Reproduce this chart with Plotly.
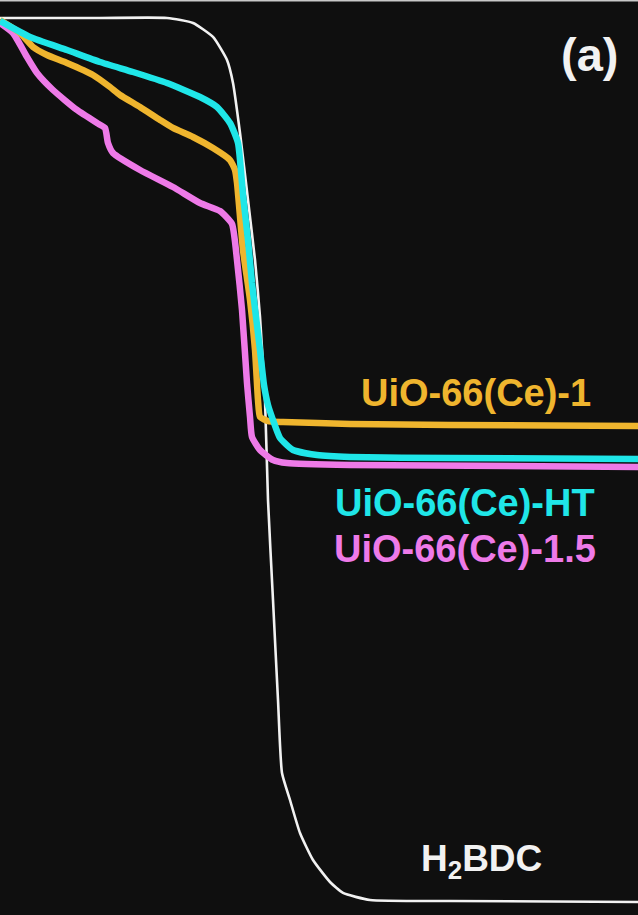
import plotly.graph_objects as go

# Temperature (°C) and weight (%)
h2bdc_T = [30, 130, 197, 223, 243, 257, 263, 270, 278, 285, 290, 295, 298, 303, 308, 312, 320, 330, 343, 360, 373, 400, 480, 668]
h2bdc_w = [99.89, 99.89, 99.89, 99.33, 97.78, 95.22, 92.67, 87.11, 79.67, 73.0, 66.67, 57.44, 46.33, 35.22, 24.11, 16.0, 13.0, 9.33, 6.33, 3.89, 2.67, 1.89, 1.78, 1.67]

ce1_T = [30, 50, 63, 77, 97, 123, 140, 150, 170, 190, 203, 223, 243, 260, 265, 267, 273, 280, 285, 288, 290, 298, 313, 380, 480, 668]
ce1_w = [99.67, 98.22, 96.67, 95.78, 94.89, 93.56, 92.22, 91.33, 90.0, 88.56, 87.67, 86.67, 85.44, 84.11, 83.0, 81.56, 74.11, 68.56, 63.0, 57.44, 55.56, 55.11, 55.0, 54.78, 54.67, 54.56]

ht_T = [30, 60, 97, 130, 163, 197, 230, 247, 260, 268, 273, 278, 282, 286, 290, 294, 298, 303, 310, 323, 347, 380, 480, 668]
ht_w = [99.56, 97.78, 96.33, 95.0, 93.89, 92.67, 91.11, 90.0, 88.22, 86.0, 80.22, 75.22, 70.44, 66.67, 63.0, 59.11, 56.89, 55.22, 53.22, 51.89, 51.33, 51.11, 51.0, 50.89]

ce15_T = [30, 43, 57, 67, 83, 107, 127, 135, 138, 143, 170, 203, 230, 250, 262, 267, 272, 277, 280, 282, 290, 303, 317, 380, 668]
ce15_w = [99.33, 98.22, 95.56, 93.78, 91.89, 89.67, 88.22, 87.67, 86.0, 84.89, 83.0, 81.11, 79.33, 78.44, 77.0, 73.0, 67.44, 59.33, 55.56, 53.33, 51.89, 50.78, 50.44, 50.22, 50.0]

W, H = 638, 915
FONT = "Arial, Liberation Sans, sans-serif"

fig = go.Figure()
fig.add_trace(go.Scatter(x=h2bdc_T, y=h2bdc_w, mode="lines", line=dict(color="#f2f2f2", width=2.6, shape="spline", smoothing=0.5), hoverinfo="skip"))
fig.add_trace(go.Scatter(x=ce15_T, y=ce15_w, mode="lines", line=dict(color="#ee7ae8", width=6.5, shape="spline", smoothing=0.5), hoverinfo="skip"))
fig.add_trace(go.Scatter(x=ce1_T, y=ce1_w, mode="lines", line=dict(color="#efb52e", width=6.5, shape="spline", smoothing=0.5), hoverinfo="skip"))
fig.add_trace(go.Scatter(x=ht_T, y=ht_w, mode="lines", line=dict(color="#1fe6e8", width=6.5, shape="spline", smoothing=0.5), hoverinfo="skip"))

def ann(text, xp, yp, color, size):
    fig.add_annotation(text=text, x=xp / W, y=1 - yp / H, xref="paper", yref="paper",
                       xanchor="center", yanchor="middle", showarrow=False,
                       font=dict(family=FONT, size=size, color=color, weight="bold"))

ann("UiO-66(Ce)-1", 476, 393, "#efb52e", 38)
ann("UiO-66(Ce)-HT", 465, 503, "#1fe6e8", 38)
ann("UiO-66(Ce)-1.5", 465, 549, "#ee7ae8", 38)
ann("H<sub>2</sub>BDC", 482, 861, "#f2f2f2", 37)
ann("(a)", 589, 55, "#f2f2f2", 47)

fig.add_shape(type="line", xref="paper", yref="paper", x0=0, x1=1, y0=1, y1=1,
              line=dict(color="#c8c8c8", width=3))

fig.update_layout(
    width=W, height=H, margin=dict(l=0, r=0, t=0, b=0),
    paper_bgcolor="#0d0d0d", plot_bgcolor="#0f0f0f",
    showlegend=False,
    xaxis=dict(range=[30, 668], visible=False, showgrid=False, zeroline=False),
    yaxis=dict(range=[(917 - 915) / 9, 917 / 9], visible=False, showgrid=False, zeroline=False),
)
fig.write_html("out.html", config={"displayModeBar": False},
               post_script="document.body.style.margin='0';document.body.style.background='#0d0d0d';")
